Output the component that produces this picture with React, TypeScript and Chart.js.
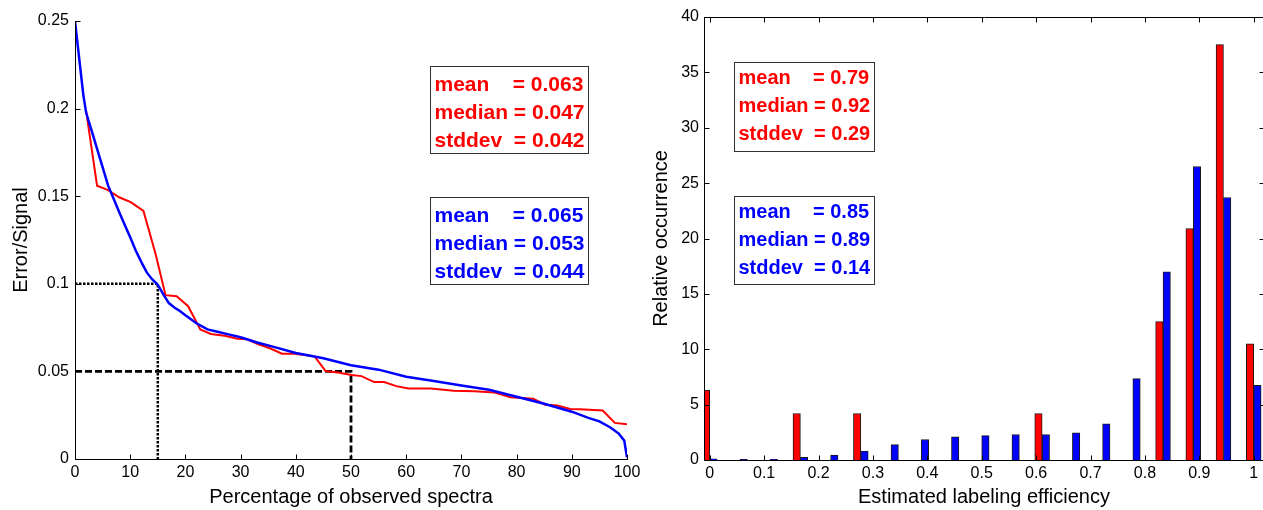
import { useEffect, useRef } from 'react';
import { Chart, registerables } from 'chart.js';

Chart.register(...registerables);

const FONT = '"Liberation Sans", Arial, Helvetica, sans-serif';

// ---------- Left chart data ----------
const coverageTicks = [0, 10, 20, 30, 40, 50, 60, 70, 80, 90, 100];
const coverageTickLabels = ['0', '10', '20', '30', '40', '50', '60', '70', '80', '90', '100'];
const ratioTicks = [0, 0.05, 0.1, 0.15, 0.2, 0.25];
const ratioTickLabels = ['0', '0.05', '0.1', '0.15', '0.2', '0.25'];

const blueCurveX = [0, 0.5, 1, 1.5, 2, 2.5, 3, 4, 5, 6, 7, 8, 9, 10, 11, 12, 13, 14, 15, 16, 17, 18, 19, 20, 22, 24, 26, 28, 30, 33, 36, 40, 45, 50, 55, 60, 65, 70, 75, 80, 85, 90, 93, 95, 97, 98.5, 99.5, 100];
const blueCurveY = [0.25, 0.236, 0.222, 0.208, 0.198, 0.1925, 0.1876, 0.177, 0.1666, 0.156, 0.1485, 0.141, 0.1337, 0.1265, 0.119, 0.1125, 0.1065, 0.1025, 0.0995, 0.094, 0.089, 0.0865, 0.0845, 0.082, 0.0775, 0.074, 0.0725, 0.071, 0.0695, 0.0665, 0.064, 0.0605, 0.0575, 0.0535, 0.051, 0.047, 0.0445, 0.042, 0.0395, 0.0355, 0.0315, 0.027, 0.0235, 0.0215, 0.018, 0.0145, 0.0105, 0.001];

const redCurveX = [2, 4, 6, 8, 10.1, 12.4, 14.6, 16.4, 18.4, 20.5, 22.7, 24.6, 27.1, 29.4, 31.2, 33.1, 35.3, 37.5, 39.7, 43.4, 45.4, 47.9, 50.1, 51.9, 54.2, 56, 58.2, 60.4, 64.5, 68.6, 72.3, 76, 78.9, 83, 85.2, 87.4, 89.7, 91.5, 95.6, 97.8, 100];
const redCurveY = [0.199, 0.156, 0.1535, 0.1494, 0.1466, 0.1416, 0.117, 0.0935, 0.0929, 0.0872, 0.0739, 0.0714, 0.0704, 0.0687, 0.0683, 0.0656, 0.0632, 0.0601, 0.0601, 0.0586, 0.0502, 0.0492, 0.0479, 0.0473, 0.0439, 0.0439, 0.0416, 0.0403, 0.0403, 0.0389, 0.0387, 0.038, 0.0353, 0.0344, 0.031, 0.0305, 0.0286, 0.0284, 0.0277, 0.0206, 0.0198];

const dottedGuideX = [0, 15, 15];
const dottedGuideY = [0.1, 0.1, 0];
const dashedGuideX = [0, 50, 50];
const dashedGuideY = [0.05, 0.05, 0];

const leftRedStats = ['mean    = 0.063', 'median = 0.047', 'stddev  = 0.042'];
const leftBlueStats = ['mean    = 0.065', 'median = 0.053', 'stddev  = 0.044'];

// ---------- Right chart data ----------
const binCenters = [0, 0.0556, 0.1111, 0.1667, 0.2222, 0.2778, 0.3333, 0.3889, 0.4444, 0.5, 0.5556, 0.6111, 0.6667, 0.7222, 0.7778, 0.8333, 0.8889, 0.9444, 1];
const redHist = [6.3, 0, 0, 4.2, 0, 4.2, 0, 0, 0, 0, 0, 4.2, 0, 0, 0, 12.5, 20.9, 37.5, 10.5];
const blueHist = [0.1, 0.05, 0.05, 0.25, 0.45, 0.8, 1.4, 1.85, 2.1, 2.2, 2.3, 2.3, 2.45, 3.27, 7.35, 17, 26.5, 23.7, 6.75];
const efficiencyTicks = [0, 0.1, 0.2, 0.3, 0.4, 0.5, 0.6, 0.7, 0.8, 0.9, 1];
const efficiencyTickLabels = ['0', '0.1', '0.2', '0.3', '0.4', '0.5', '0.6', '0.7', '0.8', '0.9', '1'];
const occurrenceTicks = [0, 5, 10, 15, 20, 25, 30, 35, 40];
const occurrenceTickLabels = ['0', '5', '10', '15', '20', '25', '30', '35', '40'];

const rightRedStats = ['mean    = 0.79', 'median = 0.92', 'stddev  = 0.29'];
const rightBlueStats = ['mean    = 0.85', 'median = 0.89', 'stddev  = 0.14'];

const RED = '#ff0000';
const BLUE = '#0000ff';

const pts = (xs: number[], ys: number[]) => xs.map((x, i) => ({ x, y: ys[i] }));

const framePlugin = {
  id: 'matlabFrame',
  afterDatasetsDraw(chart: any, _args: any, opts: any) {
    const { ctx, chartArea: a, scales } = chart;
    const xs = scales.x;
    const ys = scales.y;
    const L = opts.tickLen || 5;
    const ap = (v: number) => Math.round(v) + 0.5;
    ctx.save();
    ctx.strokeStyle = '#000';
    ctx.lineWidth = 1;
    ctx.beginPath();
    const left = ap(a.left);
    const bottom = ap(a.bottom);
    const top = ap(a.top);
    const right = ap(a.right);
    xs.ticks.forEach((t: any) => {
      const px = ap(xs.getPixelForValue(t.value));
      ctx.moveTo(px, bottom);
      ctx.lineTo(px, bottom - L);
      if (opts.box) {
        ctx.moveTo(px, top);
        ctx.lineTo(px, top + L);
      }
    });
    ys.ticks.forEach((t: any) => {
      const py = ap(ys.getPixelForValue(t.value));
      ctx.moveTo(left, py);
      ctx.lineTo(left + L, py);
      if (opts.box) {
        ctx.moveTo(right, py);
        ctx.lineTo(right - L, py);
      }
    });
    ctx.moveTo(left, top - 0.5);
    ctx.lineTo(left, bottom);
    ctx.lineTo(right + 0.5, bottom);
    if (opts.box) {
      ctx.moveTo(left, top);
      ctx.lineTo(right, top);
      ctx.lineTo(right, bottom);
    }
    ctx.stroke();

    (opts.boxes || []).forEach((b: any) => {
      const x0 = Math.round(xs.getPixelForValue(b.x0)) + 0.5;
      const x1 = Math.round(xs.getPixelForValue(b.x1)) + 0.5;
      const y0 = Math.round(ys.getPixelForValue(b.yTop)) + 0.5;
      const y1 = Math.round(ys.getPixelForValue(b.yBottom)) + 0.5;
      ctx.fillStyle = '#fff';
      ctx.fillRect(x0, y0, x1 - x0, y1 - y0);
      ctx.strokeStyle = '#333';
      ctx.lineWidth = 1;
      ctx.strokeRect(x0, y0, x1 - x0, y1 - y0);
      ctx.fillStyle = b.color;
      ctx.font = `bold ${b.fontSize}px ${FONT}`;
      ctx.textAlign = 'left';
      ctx.textBaseline = 'alphabetic';
      b.lines.forEach((line: string, i: number) => {
        ctx.fillText(line, x0 + b.inset, y0 + b.first + i * b.gap);
      });
    });
    ctx.restore();
  },
};

function axis(opts: any) {
  return {
    type: 'linear',
    min: opts.min,
    max: opts.max,
    offset: false,
    grid: { display: false, drawTicks: false },
    border: { display: false },
    afterBuildTicks: (s: any) => {
      s.ticks = opts.ticks.map((v: number) => ({ value: v }));
    },
    afterFit: (s: any) => {
      if (opts.width !== undefined) s.width = opts.width;
      if (opts.height !== undefined) s.height = opts.height;
      s.paddingLeft = 0;
      s.paddingRight = 0;
      s.paddingTop = 0;
      s.paddingBottom = 0;
    },
    ticks: {
      autoSkip: false,
      maxRotation: 0,
      minRotation: 0,
      padding: opts.pad,
      color: '#000',
      font: { family: FONT, size: 16 },
      callback: (_v: any, i: number) => opts.labels[i],
    },
    title: {
      display: true,
      text: opts.title,
      color: '#000',
      font: { family: FONT, size: 20 },
      padding: opts.titlePad,
    },
  };
}

export default function App() {
  const leftRef = useRef<HTMLCanvasElement>(null);
  const rightRef = useRef<HTMLCanvasElement>(null);

  useEffect(() => {
    const common = {
      responsive: false,
      maintainAspectRatio: false,
      animation: false,
      events: [],
      devicePixelRatio: 1,
    };

    const left = new Chart(leftRef.current as HTMLCanvasElement, {
      type: 'line',
      data: {
        datasets: [
          { data: pts(blueCurveX, blueCurveY), borderColor: BLUE, borderWidth: 2.5, pointRadius: 0, tension: 0 },
          { data: pts(redCurveX, redCurveY), borderColor: RED, borderWidth: 2, pointRadius: 0, tension: 0 },
          { data: pts(dottedGuideX, dottedGuideY), borderColor: '#000', borderWidth: 2.5, borderDash: [2.5, 1.5], pointRadius: 0, tension: 0, borderCapStyle: 'butt' },
          { data: pts(dashedGuideX, dashedGuideY), borderColor: '#000', borderWidth: 2.8, borderDash: [7, 3], pointRadius: 0, tension: 0, borderCapStyle: 'butt' },
        ],
      } as any,
      options: {
        ...common,
        layout: { padding: { left: 0, right: 13, top: 21, bottom: 0 } },
        plugins: {
          legend: { display: false },
          tooltip: { enabled: false },
          matlabFrame: {
            box: false,
            tickLen: 5,
            boxes: [
              { x0: 64.4, x1: 92.9, yTop: 0.2245, yBottom: 0.1748, color: RED, lines: leftRedStats, fontSize: 21, inset: 4, first: 24.3, gap: 28 },
              { x0: 64.4, x1: 92.9, yTop: 0.1494, yBottom: 0.0997, color: BLUE, lines: leftBlueStats, fontSize: 21, inset: 4, first: 24.3, gap: 28 },
            ],
          },
        },
        scales: {
          x: axis({ min: 0, max: 100, ticks: coverageTicks, labels: coverageTickLabels, title: 'Percentage of observed spectra', height: 51, pad: 4, titlePad: { top: 0, bottom: 1 } }),
          y: axis({ min: 0, max: 0.25, ticks: ratioTicks, labels: ratioTickLabels, title: 'Error/Signal', width: 75, pad: 6, titlePad: { top: 9, bottom: 0 } }),
        },
      } as any,
      plugins: [framePlugin],
    });

    const right = new Chart(rightRef.current as HTMLCanvasElement, {
      type: 'bar',
      data: {
        datasets: [
          { data: pts(binCenters, redHist), backgroundColor: RED, borderColor: '#1a1a1a', borderWidth: 1, barThickness: 7.4, clip: 0 },
          { data: pts(binCenters, blueHist), backgroundColor: BLUE, borderColor: '#1a1a1a', borderWidth: 1, barThickness: 7.4, clip: 0 },
        ],
      } as any,
      options: {
        ...common,
        layout: { padding: { left: 0, right: 6, top: 17, bottom: 0 } },
        plugins: {
          legend: { display: false },
          tooltip: { enabled: false },
          matlabFrame: {
            box: true,
            tickLen: 5,
            boxes: [
              { x0: 0.0452, x1: 0.302, yTop: 35.96, yBottom: 27.93, color: RED, lines: rightRedStats, fontSize: 20, inset: 4, first: 21.6, gap: 27.8 },
              { x0: 0.0452, x1: 0.302, yTop: 23.86, yBottom: 15.86, color: BLUE, lines: rightBlueStats, fontSize: 20, inset: 4, first: 21.6, gap: 27.8 },
            ],
          },
        },
        scales: {
          x: axis({ min: -0.0105, max: 1.0189, ticks: efficiencyTicks, labels: efficiencyTickLabels, title: 'Estimated labeling efficiency', height: 50, pad: 4, titlePad: { top: 0, bottom: 1 } }),
          y: axis({ min: 0, max: 40, ticks: occurrenceTicks, labels: occurrenceTickLabels, title: 'Relative occurrence', width: 64, pad: 5, titlePad: { top: 9, bottom: 0 } }),
        },
      } as any,
      plugins: [framePlugin],
    });

    return () => {
      left.destroy();
      right.destroy();
    };
  }, []);

  return (
    <div style={{ position: 'absolute', left: 0, top: 0, width: 1263, height: 510, overflow: 'hidden', background: '#fff' }}>
      <canvas ref={leftRef} width={640} height={510} style={{ position: 'absolute', left: 0, top: 0, width: 640, height: 510 }} />
      <canvas ref={rightRef} width={630} height={510} style={{ position: 'absolute', left: 640, top: 0, width: 630, height: 510 }} />
    </div>
  );
}
